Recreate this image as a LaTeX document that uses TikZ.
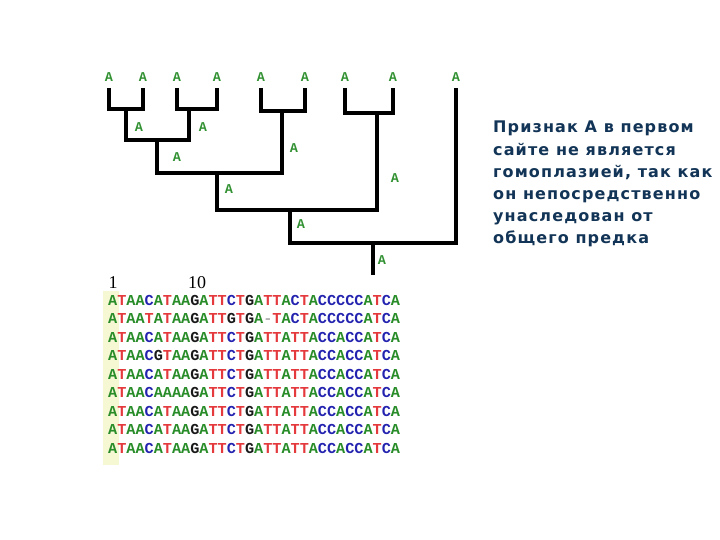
\documentclass[tikz,border=0pt]{standalone}
\usepackage{fontspec}
\newfontfamily\seqfont{Liberation Mono}
\newfontfamily\numfont{Liberation Serif}
\newfontfamily\notefont[LetterSpace=7]{DejaVu Sans}
\usetikzlibrary{positioning}

\definecolor{baseA}{RGB}{40,140,40}
\definecolor{baseT}{RGB}{228,58,62}
\definecolor{baseC}{RGB}{35,35,175}
\definecolor{baseG}{RGB}{25,25,25}
\definecolor{gapclr}{RGB}{175,175,175}
\definecolor{stateclr}{RGB}{50,145,50}
\definecolor{noteclr}{RGB}{18,52,86}
\definecolor{hilite}{RGB}{246,248,212}

% colour one base of an alignment row
\def\dnabase#1{%
  \if A#1\textcolor{baseA}{A}\else
  \if T#1\textcolor{baseT}{T}\else
  \if C#1\textcolor{baseC}{C}\else
  \if G#1\textcolor{baseG}{G}\else
  \textcolor{gapclr}{#1}\fi\fi\fi\fi}
\def\dnaloop#1{\ifx\relax#1\else\dnabase{#1}\expandafter\dnaloop\fi}
\newcommand\dnaseq[1]{\dnaloop#1\relax}

\begin{document}
\begin{tikzpicture}[
  x=1pt, y=-1pt,
  branch/.style={line width=3.3pt, line join=miter},
  state/.style={text=stateclr, inner sep=0pt, font=\seqfont\bfseries\fontsize{13.5}{13.5}\selectfont},
  seqrow/.style={anchor=west, inner sep=0pt, font=\seqfont\bfseries\fontsize{15.2}{15.2}\selectfont},
  sitepos/.style={inner sep=0pt, font=\numfont\fontsize{18}{18}\selectfont},
  note/.style={anchor=north west, inner sep=0pt, align=left, text=noteclr, font=\notefont\bfseries\fontsize{16}{22.2}\selectfont}
]
  \useasboundingbox (0,0) rectangle (720,540);

  % leaves
  \node[state] (l1) at (109,77) {A};
  \node[state] (l2) at (143,77) {A};
  \node[state] (l3) at (177,77) {A};
  \node[state] (l4) at (217,77) {A};
  \node[state] (l5) at (261,77) {A};
  \node[state] (l6) at (305,77) {A};
  \node[state] (l7) at (345,77) {A};
  \node[state] (l8) at (393,77) {A};
  \node[state] (l9) at (456,77) {A};

  \coordinate (t1) at (109,88);
  \coordinate (t2) at (143,88);
  \coordinate (t3) at (177,88);
  \coordinate (t4) at (217,88);
  \coordinate (t5) at (261,88);
  \coordinate (t6) at (305,88);
  \coordinate (t7) at (345,88);
  \coordinate (t8) at (393,88);
  \coordinate (t9) at (456,88);

  % internal nodes
  \coordinate (j12) at (126,109);
  \coordinate (j34) at (189,109);
  \coordinate (j56) at (282,111);
  \coordinate (j78) at (377,113);
  \coordinate (j14) at (157,140);
  \coordinate (j16) at (217,173);
  \coordinate (j18) at (290,210);
  \coordinate (root) at (373,243);
  \coordinate (rootend) at (373,275);

  \draw[branch] (t1) |- (j12) -| (t2);
  \draw[branch] (t3) |- (j34) -| (t4);
  \draw[branch] (t5) |- (j56) -| (t6);
  \draw[branch] (t7) |- (j78) -| (t8);
  \draw[branch] (j12) |- (j14) -| (j34);
  \draw[branch] (j14) |- (j16) -| (j56);
  \draw[branch] (j16) |- (j18) -| (j78);
  \draw[branch] (j18) |- (root) -| (t9);
  \draw[branch] (root) -- (rootend);

  % ancestral states
  \node[state] (a12) at (139,127) {A};
  \node[state] (a34) at (203,127) {A};
  \node[state] (a14) at (177,157) {A};
  \node[state] (a56) at (294,148) {A};
  \node[state] (a16) at (229,189) {A};
  \node[state] (a78) at (395,178) {A};
  \node[state] (a18) at (301,224) {A};
  \node[state] (aroot) at (382,260) {A};

  % alignment
  \fill[hilite] (103,291) rectangle (119,465);
  \node[sitepos] (pos1) at (113,283) {1};
  \node[sitepos] (pos10) at (197,283) {10};

  \node[seqrow] (row1) at (108,300) {\dnaseq{ATAACATAAGATTCTGATTACTACCCCCATCA}};
  \node[seqrow] (row2) at (108,318.5) {\dnaseq{ATAATATAAGATTGTGA-TACTACCCCCATCA}};
  \node[seqrow] (row3) at (108,337) {\dnaseq{ATAACATAAGATTCTGATTATTACCACCATCA}};
  \node[seqrow] (row4) at (108,355.5) {\dnaseq{ATAACGTAAGATTCTGATTATTACCACCATCA}};
  \node[seqrow] (row5) at (108,374) {\dnaseq{ATAACATAAGATTCTGATTATTACCACCATCA}};
  \node[seqrow] (row6) at (108,392.5) {\dnaseq{ATAACAAAAGATTCTGATTATTACCACCATCA}};
  \node[seqrow] (row7) at (108,411) {\dnaseq{ATAACATAAGATTCTGATTATTACCACCATCA}};
  \node[seqrow] (row8) at (108,429.5) {\dnaseq{ATAACATAAGATTCTGATTATTACCACCATCA}};
  \node[seqrow] (row9) at (108,448) {\dnaseq{ATAACATAAGATTCTGATTATTACCACCATCA}};

  \node[note] (remark) at (493,121) {Признак А в первом\\сайте не является\\гомоплазией, так как\\он непосредственно\\унаследован от\\общего предка};
\end{tikzpicture}
\end{document}
